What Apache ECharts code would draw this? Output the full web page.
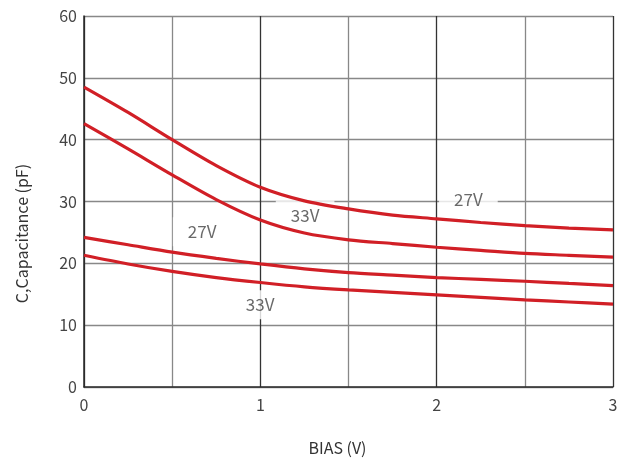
<!DOCTYPE html>
<html>
<head>
<meta charset="utf-8">
<script src="https://cdn.jsdelivr.net/npm/echarts@6/dist/echarts.min.js"></script>
<style>
html,body{margin:0;padding:0;background:#fff;}
#chart{width:631px;height:462px;}
</style>
</head>
<body>
<div id="chart"></div>
<script>
var biasV = [0, 0.25, 0.5, 0.75, 1, 1.25, 1.5, 1.75, 2, 2.25, 2.5, 2.75, 3];
var curveA = [48.5, 44.4, 40.0, 35.8, 32.3, 30.1, 28.8, 27.8, 27.2, 26.6, 26.1, 25.7, 25.4];
var curveB = [42.6, 38.5, 34.3, 30.3, 27.0, 24.9, 23.8, 23.2, 22.6, 22.1, 21.6, 21.3, 21.0];
var curveC = [24.2, 23.0, 21.8, 20.8, 19.9, 19.1, 18.5, 18.1, 17.7, 17.4, 17.1, 16.75, 16.4];
var curveD = [21.3, 19.9, 18.7, 17.7, 16.9, 16.2, 15.7, 15.3, 14.9, 14.5, 14.1, 13.75, 13.4];
var xTickLabels = ['0', '1', '2', '3'];
var yTickLabels = ['0', '10', '20', '30', '40', '50', '60'];
var noteText = ['27V', '33V', '27V', '33V'];
var noteX = [2.18, 1.254, 0.67, 0.999];
var noteY = [30.3, 27.8, 25.1, 13.3];

function pairs(xs, ys) { return xs.map(function (x, i) { return [x, ys[i]]; }); }

var FONT = '"Noto Sans CJK SC", "Noto Sans", sans-serif';
var RED = '#d11f26';
function lineSeries(name, ys) {
  return {
    name: name, type: 'line', data: pairs(biasV, ys), smooth: 0.3,
    showSymbol: false, symbol: 'none', z: 5,
    lineStyle: { color: RED, width: 3.2 }
  };
}

var chart = echarts.init(document.getElementById('chart'), null, { renderer: 'canvas' });
chart.setOption({
  animation: false,
  backgroundColor: '#fff',
  grid: { left: 84, right: 18, top: 16, bottom: 75, containLabel: false },
  xAxis: {
    type: 'value', min: 0, max: 3, interval: 0.5,
    name: 'BIAS (V)', nameLocation: 'middle', nameGap: 53,
    nameTextStyle: { fontFamily: FONT, fontSize: 16, color: '#333', padding: [0, 22, 0, 0] },
    axisLine: { show: true, lineStyle: { color: '#2a2a2a', width: 1.5 } },
    axisTick: { show: false },
    axisLabel: {
      fontFamily: FONT, fontSize: 16, color: '#444', margin: 10,
      formatter: function (v) { return Math.abs(v - Math.round(v)) < 1e-6 ? xTickLabels[Math.round(v)] : ''; }
    },
    splitLine: { show: true, lineStyle: { color: ['#333', '#888'], width: 1.3 } }
  },
  yAxis: {
    type: 'value', min: 0, max: 60, interval: 10,
    name: 'C,Capacitance (pF)', nameLocation: 'middle', nameGap: 54,
    nameTextStyle: { fontFamily: FONT, fontSize: 16, color: '#333', padding: [0, 64, 0, 0] },
    axisLine: { show: true, lineStyle: { color: '#2a2a2a', width: 1.5 } },
    axisTick: { show: false },
    axisLabel: {
      fontFamily: FONT, fontSize: 16, color: '#444', margin: 7,
      formatter: function (v) { return yTickLabels[Math.round(v / 10)]; }
    },
    splitLine: { show: true, lineStyle: { color: '#888', width: 1.3 } }
  },
  series: [
    lineSeries('A', curveA),
    lineSeries('B', curveB),
    lineSeries('C', curveC),
    lineSeries('D', curveD),
    {
      type: 'scatter', z: 3, symbolSize: 0, silent: true,
      data: noteText.map(function (t, i) { return { value: [noteX[i], noteY[i]], name: t }; }),
      label: {
        show: true, position: 'inside', formatter: '{b}',
        fontFamily: FONT, fontSize: 17, color: '#444',
        backgroundColor: '#fff', padding: [6, 15, 6, 15]
      }
    }
  ]
});
</script>
</body>
</html>
